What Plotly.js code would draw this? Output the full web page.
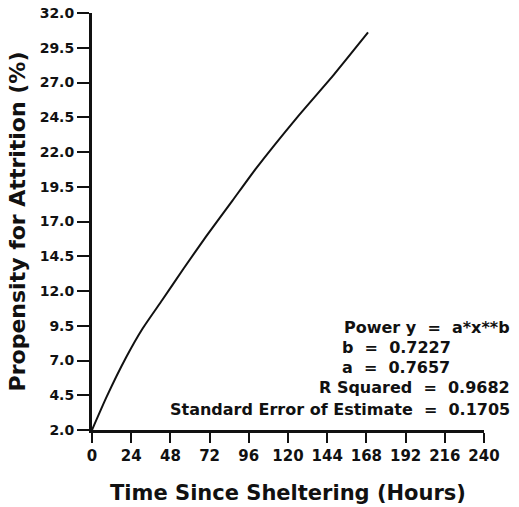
<!DOCTYPE html>
<html>
<head>
<meta charset="utf-8">
<script src="https://cdn.plot.ly/plotly-3.0.1.min.js"></script>
<style>html,body{margin:0;padding:0;background:#fff;}#chart{width:519px;height:507px;}</style>
</head>
<body>
<div id="chart"></div>
<script>
// Data
var hours = [0, 9, 21, 31, 43, 56, 70, 86, 100, 126, 148, 169];
var propensity = [2.0, 4.4, 7.25, 9.3, 11.35, 13.6, 15.95, 18.5, 20.75, 24.55, 27.55, 30.6];
var yTicks = [2.0, 4.5, 7.0, 9.5, 12.0, 14.5, 17.0, 19.5, 22.0, 24.5, 27.0, 29.5, 32.0];
var xTicks = [0, 24, 48, 72, 96, 120, 144, 168, 192, 216, 240];
var S = '\u00a0';
var statLines = [
  "Power y" + S + " = " + S + "a*x**b",
  "b " + S + "= " + S + "0.7227",
  "a " + S + "= " + S + "0.7657",
  "R Squared " + S + "= " + S + "0.9682",
  "Standard Error of Estimate " + S + "= " + S + "0.1705"
];

var font = "DejaVu Sans, Verdana, sans-serif";

var trace = {
  x: hours, y: propensity, type: 'scatter', mode: 'lines',
  line: {color: '#111', width: 2, shape: 'spline', smoothing: 0.5},
  hoverinfo: 'skip'
};

var annXs = [1.071, 0.633, 0.633, 1.071, 1.071];
var annAnchors = ['right', 'left', 'left', 'right', 'right'];
var annYs = [0.247, 0.199, 0.149, 0.101, 0.048];
var annotations = statLines.map(function(t, i) {
  return {
    text: t, xref: 'paper', yref: 'paper', x: annXs[i], y: annYs[i],
    xanchor: annAnchors[i], yanchor: 'middle', showarrow: false,
    font: {family: font, size: 16, color: '#111', weight: 'bold'}
  };
});

var layout = {
  width: 519, height: 507,
  margin: {l: 92, r: 35, t: 13, b: 77},
  paper_bgcolor: '#fff', plot_bgcolor: '#fff',
  showlegend: false,
  xaxis: {
    range: [0, 240], tickvals: xTicks, ticktext: xTicks.map(String),
    showgrid: false, zeroline: false, showline: true, linecolor: '#111', linewidth: 3,
    ticks: 'outside', ticklen: 10, tickwidth: 2, tickcolor: '#111',
    tickfont: {family: font, size: 15, color: '#111', weight: 'bold'},
    title: {text: 'Time Since Sheltering (Hours)', standoff: 22,
            font: {family: font, size: 21, color: '#111', weight: 'bold'}}
  },
  yaxis: {
    range: [2, 32], tickvals: yTicks, ticktext: yTicks.map(function(v){return v.toFixed(1);}),
    showgrid: false, zeroline: false, showline: true, linecolor: '#111', linewidth: 3,
    ticks: 'outside', ticklen: 12, tickwidth: 2, tickcolor: '#111',
    tickfont: {family: font, size: 14, color: '#111', weight: 'bold'},
    title: {text: 'Propensity for Attrition (%)', standoff: 8,
            font: {family: font, size: 22, color: '#111', weight: 'bold'}}
  },
  annotations: annotations
};

Plotly.newPlot('chart', [trace], layout, {displayModeBar: false, staticPlot: true});
</script>
</body>
</html>
